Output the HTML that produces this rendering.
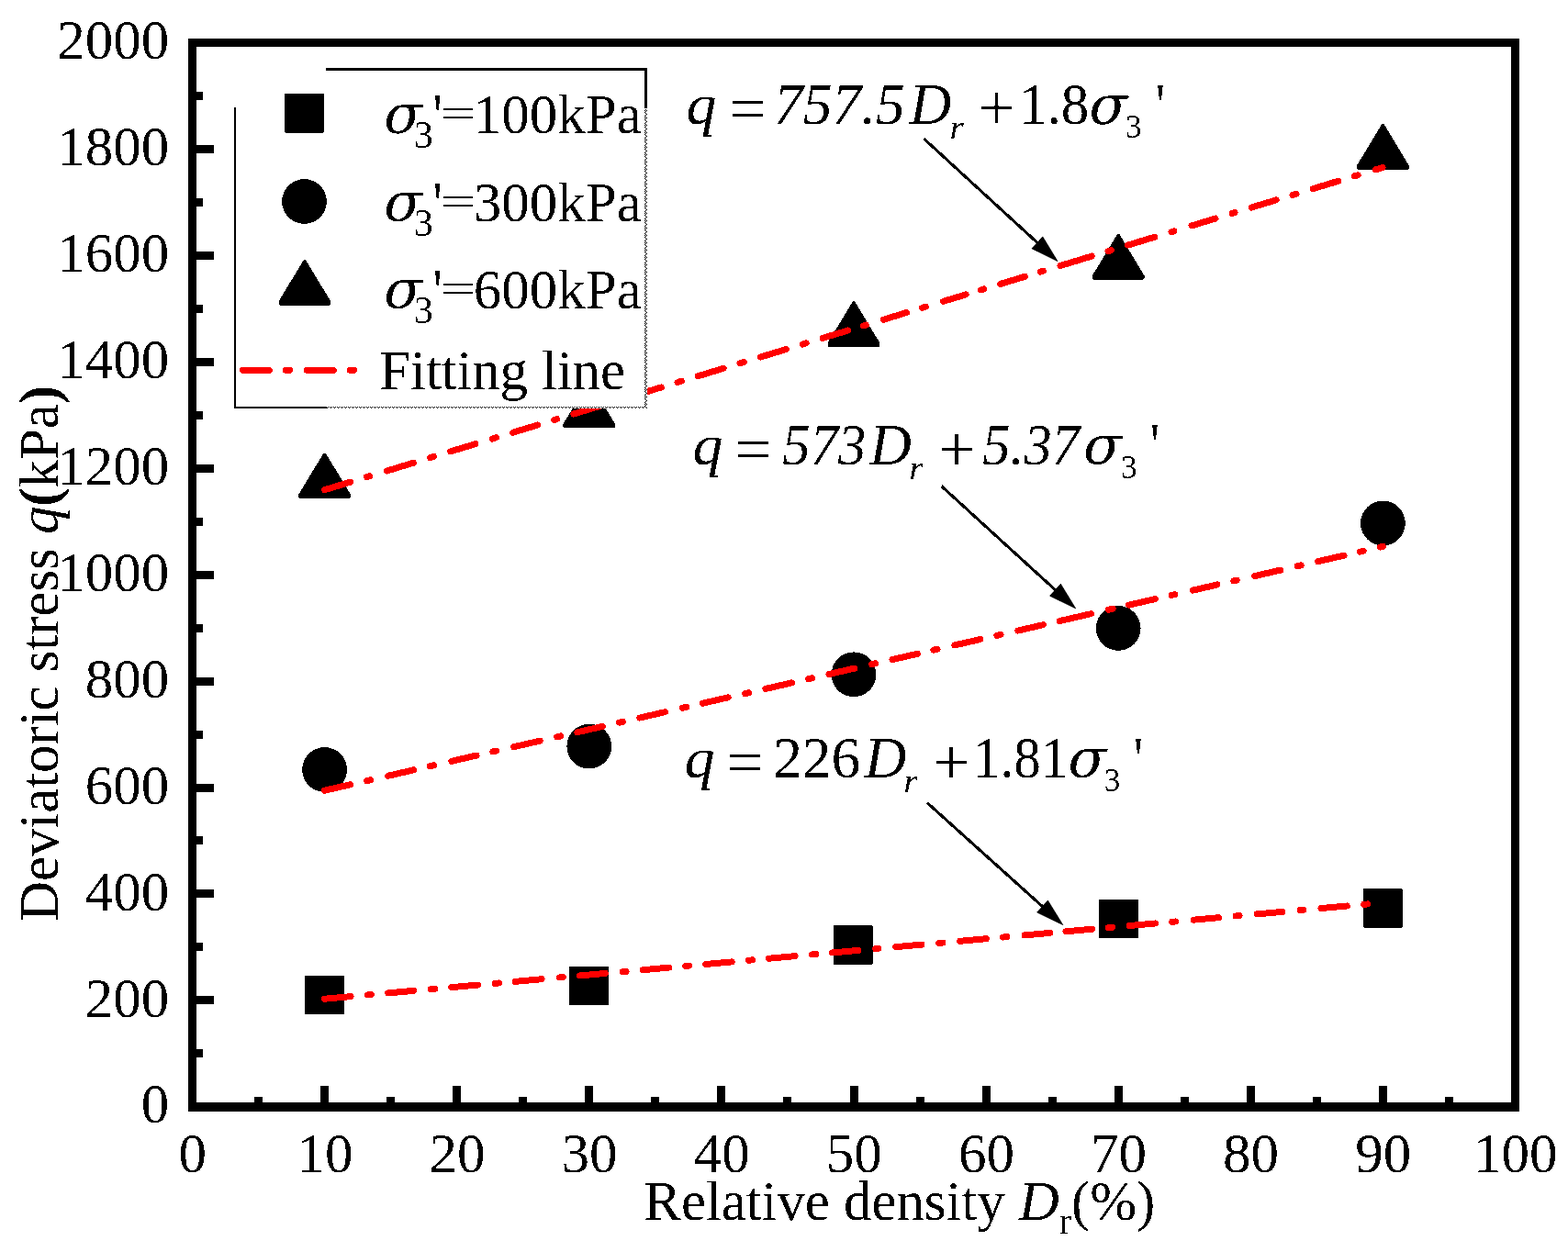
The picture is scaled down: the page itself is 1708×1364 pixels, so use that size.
<!DOCTYPE html>
<html lang="en"><head><meta charset="utf-8"><title>Deviatoric stress vs relative density</title>
<style>
html,body{margin:0;padding:0;background:#fff;}
body{width:1708px;height:1364px;overflow:hidden;}
svg{display:block;shape-rendering:crispEdges;}
text{font-family:"Liberation Serif","DejaVu Serif",serif;font-size:61px;fill:#000;}
text{filter:url(#bw);}
.i{font-style:italic;}
.sg{font-family:"DejaVu Serif","Liberation Serif",serif;font-size:59px;}
.b{font-weight:bold;}
.fit{stroke:#f00;stroke-width:7;stroke-linecap:round;fill:none;}
.ar{stroke:#000;stroke-width:3.1;fill:none;}
.px{shape-rendering:crispEdges;}
</style></head><body>
<svg width="1708" height="1364" viewBox="0 0 1708 1364">
<defs>
<filter id="bw" x="-5%" y="-20%" width="110%" height="140%" color-interpolation-filters="sRGB"><feComponentTransfer><feFuncA type="discrete" tableValues="0 1"/></feComponentTransfer></filter>
<pattern id="dotv" x="702" y="119" width="3" height="8" patternUnits="userSpaceOnUse"><path class="px" fill="#000" d="M1 0h1v1h-1zM0 1h1v1h-1zM2 1h1v1h-1zM1 2h1v1h-1zM0 3h1v1h-1zM1 4h1v1h-1zM2 5h1v1h-1zM1 6h1v1h-1zM0 7h1v1h-1z"/></pattern>
<pattern id="doth" x="356" y="443" width="4" height="2" patternUnits="userSpaceOnUse"><path class="px" fill="#000" d="M1 0h1v1h-1zM3 0h1v1h-1zM0 1h1v1h-1z"/></pattern>
</defs>
<rect x="0" y="0" width="1708" height="1364" fill="#fff"/>
<g id="series-600kPa">
<path d="M326.3 543.0 L325.2 541.8 L325.2 538.8 L352.5 493.6 L354.7 493.6 L382.0 538.8 L382.0 541.8 L380.9 543.0 Z" fill="#000"/>
<path d="M614.5 466.2 L613.4 465.0 L613.4 462.0 L640.7 416.8 L642.9 416.8 L670.2 462.0 L670.2 465.0 L669.1 466.2 Z" fill="#000"/>
<path d="M902.7 377.8 L901.6 376.6 L901.6 373.6 L928.9 328.4 L931.1 328.4 L958.4 373.6 L958.4 376.6 L957.3 377.8 Z" fill="#000"/>
<path d="M1190.9 304.5 L1189.8 303.3 L1189.8 300.3 L1217.1 255.1 L1219.3 255.1 L1246.6 300.3 L1246.6 303.3 L1245.5 304.5 Z" fill="#000"/>
<path d="M1479.1 184.5 L1478.0 183.3 L1478.0 180.3 L1505.3 135.1 L1507.5 135.1 L1534.8 180.3 L1534.8 183.3 L1533.7 184.5 Z" fill="#000"/>
</g>
<g id="series-300kPa">
<circle cx="353.6" cy="838.5" r="24.4" fill="#000"/>
<circle cx="641.8" cy="813.1" r="24.4" fill="#000"/>
<circle cx="930.0" cy="734.8" r="24.4" fill="#000"/>
<circle cx="1218.2" cy="684.4" r="24.4" fill="#000"/>
<circle cx="1506.4" cy="570.0" r="24.4" fill="#000"/>
</g>
<g id="series-100kPa">
<rect x="332.1" y="1062.8" width="43.0" height="42.4" rx="1.2" fill="#000"/>
<rect x="620.3" y="1052.7" width="43.0" height="42.4" rx="1.2" fill="#000"/>
<rect x="907.6" y="1008.3" width="43.0" height="42.4" rx="1.2" fill="#000"/>
<rect x="1196.7" y="979.8" width="43.0" height="42.4" rx="1.2" fill="#000"/>
<rect x="1484.9" y="968.3" width="43.0" height="42.4" rx="1.2" fill="#000"/>
</g>
<g id="fit-lines">
<path class="fit" d="M353.6 1088.20 L1506.4 983.41" stroke-dasharray="28.6 18.4 3.9 18.5 27.9 18.9 4.3 18.3 28.8 18.8 4.3 17.7 29.0 19.4 3.9 18.3 28.1 18.9 3.8 18.4 28.5 17.9 3.9 18.4 28.5 18.3 3.9 18.3 28.7 18.4 4.2 18.0 28.5 18.8 3.0 19.3 28.3 18.8 4.2 18.9 28.7 18.3 4.3 19.3 27.7 17.4 28.7 18.0 4.2 18.8 28.2 18.3 3.7 19.8 27.5 18.7 4.0 19.1 28.0 19.2 3.7 19.2 28.4 18.6 4.0 2000.0"/>
<path class="fit" d="M353.6 861.20 L1506.4 595.36" stroke-dasharray="28.9 18.3 4.2 19.5 28.7 18.2 4.3 19.7 28.0 18.2 3.9 19.5 29.4 18.8 4.3 18.5 28.2 18.8 3.9 18.8 28.7 19.3 4.3 18.4 28.2 18.9 4.4 18.5 29.4 18.7 4.0 18.8 28.7 19.2 4.1 18.8 28.3 17.8 4.4 19.3 28.7 18.4 4.3 19.3 28.4 18.1 35.5 19.3 4.8 17.9 29.5 18.3 3.7 19.9 27.5 18.3 3.5 20.1 28.9 18.7 4.3 18.9 28.9 17.7 4.0 18.9 3.3 2000.0"/>
<path class="fit" d="M353.6 533.70 L1506.4 182.44" stroke-dasharray="29.3 18.6 3.2 19.8 30.4 18.8 4.2 19.0 28.5 19.1 4.4 19.1 28.0 19.1 3.1 19.1 29.3 19.1 3.8 18.5 29.0 18.5 4.4 18.7 29.3 18.7 4.4 19.1 28.9 18.7 4.2 18.9 28.7 17.5 3.2 19.8 26.3 17.6 4.3 19.8 26.0 16.8 3.4 18.9 27.9 17.5 3.4 19.5 35.8 18.6 3.4 19.1 30.5 19.1 3.0 20.0 27.1 19.0 3.1 19.0 28.0 18.8 4.2 19.0 28.9 18.2 4.0 19.9 8.3 2000.0"/>
</g>
<g id="legend">
<path d="M355 74 H705 V445 H255 V117 H355 Z" fill="#fff"/>
<path class="px" d="M355 74 H705 V118 H702 V77 H355 Z" fill="#000"/>
<path class="px" d="M255 117 H257 V443 H356 V445 H255 Z" fill="#000"/>
<rect x="702" y="119" width="3" height="326" fill="url(#dotv)"/>
<rect x="356" y="443" width="347" height="2" fill="url(#doth)"/>
<rect x="310.0" y="102.2" width="43.0" height="42.4" rx="1.2" fill="#000"/>
<circle cx="331.5" cy="219.5" r="24.4" fill="#000"/>
<path d="M304.6 332.6 L303.5 331.4 L303.5 328.4 L330.8 283.2 L333.0 283.2 L360.3 328.4 L360.3 331.4 L359.2 332.6 Z" fill="#000"/>
<path class="fit" d="M264.5 403.4 H386" stroke-dasharray="28.8 18.1 4.1 18.9 28.8 18.2 4.1 2000"/>
<g><text class="sg" transform="translate(415.00,144.60) scale(1.035,1) skewX(-12)">σ</text><text style="font-size:42px" x="450.80" y="161.20">3</text><text style="font-size:58px" transform="translate(471.40,150.30) scale(1.000,1.220)">'</text><text transform="translate(479.51,138.30) scale(1.130,0.740)">=</text><text x="515.75" y="145.30">100kPa</text></g>
<g><text class="sg" transform="translate(415.00,240.50) scale(1.035,1) skewX(-12)">σ</text><text style="font-size:42px" x="450.80" y="257.10">3</text><text style="font-size:58px" transform="translate(471.40,246.20) scale(1.000,1.220)">'</text><text transform="translate(479.51,234.20) scale(1.130,0.740)">=</text><text x="515.75" y="241.20">300kPa</text></g>
<g><text class="sg" transform="translate(415.00,335.50) scale(1.035,1) skewX(-12)">σ</text><text style="font-size:42px" x="450.80" y="352.10">3</text><text style="font-size:58px" transform="translate(471.40,341.20) scale(1.000,1.220)">'</text><text transform="translate(479.51,329.20) scale(1.130,0.740)">=</text><text x="515.75" y="336.20">600kPa</text></g>
<g><text x="413.35" y="423.90" letter-spacing="-0.16">Fitting line</text></g>
</g>
<g id="axes" fill="#000" class="px">
<path fill-rule="evenodd" d="M205 42 H1655 V1211 H205 Z M214 51 V1201 H1646 V51 Z"/>
<rect x="213" y="1143" width="8" height="9"/>
<rect x="213" y="1085" width="20" height="9"/>
<rect x="213" y="1027" width="8" height="9"/>
<rect x="213" y="969" width="20" height="9"/>
<rect x="213" y="911" width="8" height="9"/>
<rect x="213" y="854" width="20" height="9"/>
<rect x="213" y="796" width="8" height="9"/>
<rect x="213" y="738" width="20" height="9"/>
<rect x="213" y="680" width="8" height="9"/>
<rect x="213" y="622" width="20" height="9"/>
<rect x="213" y="564" width="8" height="9"/>
<rect x="213" y="506" width="20" height="9"/>
<rect x="213" y="448" width="8" height="9"/>
<rect x="213" y="390" width="20" height="9"/>
<rect x="213" y="332" width="8" height="9"/>
<rect x="213" y="274" width="20" height="9"/>
<rect x="213" y="216" width="8" height="9"/>
<rect x="213" y="158" width="20" height="9"/>
<rect x="213" y="100" width="8" height="9"/>
<rect x="277" y="1195" width="9" height="7"/>
<rect x="349" y="1183" width="9" height="19"/>
<rect x="421" y="1195" width="9" height="7"/>
<rect x="493" y="1183" width="9" height="19"/>
<rect x="565" y="1195" width="9" height="7"/>
<rect x="637" y="1183" width="9" height="19"/>
<rect x="709" y="1195" width="9" height="7"/>
<rect x="781" y="1183" width="9" height="19"/>
<rect x="853" y="1195" width="9" height="7"/>
<rect x="926" y="1183" width="9" height="19"/>
<rect x="998" y="1195" width="9" height="7"/>
<rect x="1070" y="1183" width="9" height="19"/>
<rect x="1142" y="1195" width="9" height="7"/>
<rect x="1214" y="1183" width="9" height="19"/>
<rect x="1286" y="1195" width="9" height="7"/>
<rect x="1358" y="1183" width="9" height="19"/>
<rect x="1430" y="1195" width="9" height="7"/>
<rect x="1502" y="1183" width="9" height="19"/>
<rect x="1574" y="1195" width="9" height="7"/>
</g>
<g id="ylabels" text-anchor="end">
<text x="184.3" y="1223.4">0</text>
<text x="184.3" y="1107.5">200</text>
<text x="184.3" y="991.5">400</text>
<text x="184.3" y="875.6">600</text>
<text x="184.3" y="759.7">800</text>
<text x="184.3" y="643.8">1000</text>
<text x="184.3" y="527.8">1200</text>
<text x="184.3" y="411.9">1400</text>
<text x="184.3" y="296.0">1600</text>
<text x="184.3" y="180.0">1800</text>
<text x="184.3" y="64.1">2000</text>
</g>
<g id="xlabels" text-anchor="middle">
<text x="209.8" y="1277">0</text>
<text x="353.9" y="1277">10</text>
<text x="498.0" y="1277">20</text>
<text x="642.1" y="1277">30</text>
<text x="786.2" y="1277">40</text>
<text x="930.3" y="1277">50</text>
<text x="1074.4" y="1277">60</text>
<text x="1218.5" y="1277">70</text>
<text x="1362.6" y="1277">80</text>
<text x="1506.7" y="1277">90</text>
<text x="1650.8" y="1277">100</text>
</g>
<text id="xtitle" x="701.3" y="1329.3" letter-spacing="-0.09">Relative density <tspan class="i">D</tspan><tspan dy="15" font-size="40">r</tspan><tspan dy="-15">(%)</tspan></text>
<text id="ytitle" transform="translate(63,1004) rotate(-90)" letter-spacing="-0.09">Deviatoric stress <tspan class="i">q</tspan><tspan class="b">(</tspan>kPa<tspan class="b">)</tspan></text>
<g id="eq1"><text class="i" style="font-size:63px" transform="translate(747.61,135.30) scale(1.043,1.000)">q</text><text style="font-size:62px" transform="translate(794.55,141.00) scale(1.150,1.080)">=</text><text class="i" style="font-size:63px" transform="translate(842.92,135.30) scale(1.008,1.000)">757.5</text><text class="i" style="font-size:63px" x="990.65" y="135.30">D</text><text class="i" style="font-size:35px" transform="translate(1034.52,151.20) scale(1.120,1.000)">r</text><text style="font-size:71.5px" x="1065.50" y="141.40">+</text><text style="font-size:63px" transform="translate(1109.97,135.30) scale(0.968,1.000)">1.8</text><text class="sg" transform="translate(1183.20,134.70) scale(1.035,1) skewX(-12)">σ</text><text style="font-size:35px" x="1225.95" y="150.40">3</text><text style="font-size:58px" transform="translate(1258.70,136.70) scale(1.000,1.150)">'</text></g>
<g id="eq2"><text class="i" style="font-size:63px" transform="translate(754.61,505.90) scale(1.043,1.000)">q</text><text style="font-size:62px" transform="translate(800.15,511.60) scale(1.150,1.080)">=</text><text class="i" style="font-size:63px" transform="translate(852.34,505.90) scale(0.964,1.000)">573</text><text class="i" style="font-size:63px" x="947.15" y="505.90">D</text><text class="i" style="font-size:35px" transform="translate(990.32,522.20) scale(1.120,1.000)">r</text><text style="font-size:71.5px" x="1022.00" y="513.20">+</text><text class="i" style="font-size:63px" transform="translate(1070.14,505.90) scale(0.961,1.000)">5.37</text><text class="sg" transform="translate(1176.90,505.30) scale(1.035,1) skewX(-12)">σ</text><text style="font-size:35px" x="1220.95" y="521.40">3</text><text style="font-size:58px" transform="translate(1252.70,507.30) scale(1.000,1.150)">'</text></g>
<g id="eq3"><text class="i" style="font-size:63px" transform="translate(745.81,847.10) scale(1.043,1.000)">q</text><text style="font-size:62px" transform="translate(791.05,852.80) scale(1.150,1.080)">=</text><text style="font-size:63px" transform="translate(842.13,847.10) scale(1.007,1.000)">226</text><text class="i" style="font-size:63px" x="941.85" y="847.10">D</text><text class="i" style="font-size:35px" transform="translate(984.22,863.20) scale(1.120,1.000)">r</text><text style="font-size:71.5px" x="1016.00" y="854.40">+</text><text style="font-size:63px" transform="translate(1059.84,847.10) scale(0.939,1.000)">1.81</text><text class="sg" transform="translate(1160.20,846.50) scale(1.035,1) skewX(-12)">σ</text><text style="font-size:35px" x="1202.85" y="862.40">3</text><text style="font-size:58px" transform="translate(1234.80,848.50) scale(1.000,1.150)">'</text></g>
<g id="arrows">
<line class="ar" x1="1006.3" y1="151.0" x2="1130.6" y2="265.0"/><path d="M1152.0 284.6 L1124.0 270.8 L1135.8 257.9 Z" fill="#000" stroke="#000" stroke-width="0.8" stroke-linejoin="round"/>
<line class="ar" x1="1025.5" y1="529.6" x2="1150.3" y2="643.4"/><path d="M1171.7 662.9 L1143.6 649.2 L1155.4 636.2 Z" fill="#000" stroke="#000" stroke-width="0.8" stroke-linejoin="round"/>
<line class="ar" x1="1010.0" y1="874.6" x2="1136.2" y2="988.2"/><path d="M1157.8 1007.6 L1129.6 994.0 L1141.4 981.0 Z" fill="#000" stroke="#000" stroke-width="0.8" stroke-linejoin="round"/>
</g>
</svg>
</body></html>
